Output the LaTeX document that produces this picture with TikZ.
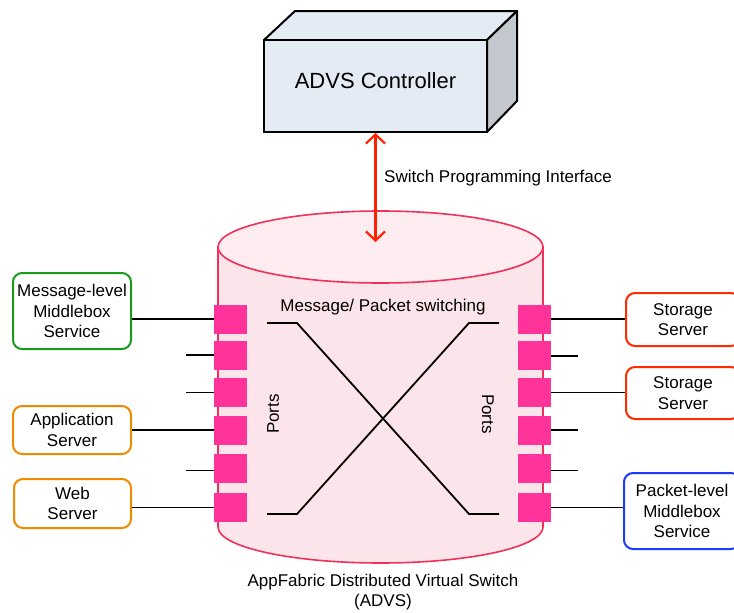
\documentclass[tikz,border=0pt]{standalone}
\usepackage{fontspec}
\setmainfont{Liberation Sans}
\usetikzlibrary{arrows.meta}
\definecolor{cubefront}{HTML}{E5EBF5}
\definecolor{cubeside}{HTML}{C3C8CF}
\definecolor{swfill}{HTML}{FCE5EA}
\definecolor{swline}{HTML}{F0305A}
\definecolor{portc}{HTML}{FF3399}
\definecolor{arrowred}{HTML}{FF2200}
\definecolor{gbox}{HTML}{1A9A1A}
\definecolor{obox}{HTML}{F08A00}
\definecolor{rbox}{HTML}{FF2A00}
\definecolor{bbox}{HTML}{1A3CFF}
\tikzset{
  txt/.style={font=\fontsize{17}{20.7}\selectfont, align=center, inner sep=0pt},
  svc/.style={draw, line width=2pt, rounded corners=9pt, fill=white, txt},
  portbox/.style={fill=portc, minimum width=33pt, minimum height=29pt, inner sep=0pt},
  wire/.style={line width=1.8pt, black},
}
\begin{document}
\begin{tikzpicture}[x=1pt,y=-1pt]
\useasboundingbox (0,0) rectangle (734,613);
% --- controller cube
\filldraw[fill=cubefront, line width=2pt, line join=round] (264,40) -- (295,11) -- (517,11) -- (487,40) -- cycle;
\filldraw[fill=cubeside, line width=2pt, line join=round] (487,40) -- (517,11) -- (517,101) -- (487,132) -- cycle;
\node[draw, line width=2pt, fill=cubefront, minimum width=223pt, minimum height=92pt, inner sep=0pt,
      text height=16pt, text depth=12pt,
      font=\fontsize{22}{26}\selectfont] (ctrl) at (375.5,86) {ADVS Controller};
% --- switch cylinder
\filldraw[fill=swfill, draw=swline, line width=1.6pt]
  (218,247) -- (218,527) arc[start angle=180, end angle=0, x radius=162.5, y radius=36] -- (543,247) -- cycle;
\filldraw[fill=swfill!70!white, draw=swline, line width=1.6pt] (380.5,247) ellipse [x radius=162.5, y radius=36];
\coordinate (swtop) at (375.5,242);
% --- programming interface arrow
\draw[arrowred, line width=2.2pt, {Straight Barb[length=9pt,width=19pt,line width=2.2pt]}-{Straight Barb[length=9pt,width=19pt,line width=2.2pt]}]
  (ctrl.south) -- (swtop);
\node[txt, anchor=west] (spi) at (384,178) {Switch Programming Interface};
% --- labels in switch
\node[txt] (mps) at (383,307) {Message/ Packet switching};
\node[txt, rotate=90] (lports) at (273,414) {Ports};
\node[txt, rotate=-90] (rports) at (488,414) {Ports};
\node[txt] (advs) at (383,592) {AppFabric Distributed Virtual Switch\\(ADVS)};
% --- crossing lines
\draw[wire] (267,323) -- (297,323) -- (469,514) -- (499,514);
\draw[wire] (499,323) -- (469,323) -- (297,514) -- (267,514);
% --- ports
\foreach \i/\y in {1/319,2/355,3/392.5,4/430,5/468,6/507.5}{
  \node[portbox] (L\i) at (230.5,\y) {};
  \node[portbox] (R\i) at (534.5,\y) {};
}
% --- service boxes
\node[svc, draw=gbox, minimum width=118pt, minimum height=76pt] (msg) at (72,311) {Message-level\\Middlebox\\Service};
\node[svc, draw=obox, minimum width=118pt, minimum height=48pt] (app) at (72,430) {Application\\Server};
\node[svc, draw=obox, minimum width=117pt, minimum height=49pt] (web) at (72.5,503.5) {Web\\Server};
\node[svc, draw=rbox, minimum width=114pt, minimum height=53pt] (st1) at (683,319.5) {Storage\\Server};
\node[svc, draw=rbox, minimum width=114pt, minimum height=52pt] (st2) at (683,393) {Storage\\Server};
\node[svc, draw=bbox, minimum width=116pt, minimum height=76pt] (pkt) at (682,511) {Packet-level\\Middlebox\\Service};
% --- stubs
\coordinate (l2s) at (186,355); \coordinate (l3s) at (186,392.5); \coordinate (l5s) at (186,470.5);
\coordinate (r2s) at (578,356); \coordinate (r4s) at (578,430); \coordinate (r5s) at (578,470.5);
% --- connectors
\draw[wire] (msg.east |- L1.west) -- (L1.west);
\draw[wire] (app.east |- L4.west) -- (L4.west);
\draw[wire] (web.east |- L6.west) -- (L6.west);
\draw[wire] (l2s) -- (l2s -| L2.west);
\draw[wire] (l3s) -- (l3s -| L3.west);
\draw[wire] (l5s) -- (l5s -| L5.west);
\draw[wire] (R1.east) -- (R1.east -| st1.west);
\draw[wire] (R3.east) -- (R3.east -| st2.west);
\draw[wire] (R6.east) -- (R6.east -| pkt.west);
\draw[wire] (r2s -| R2.east) -- (r2s);
\draw[wire] (r4s -| R4.east) -- (r4s);
\draw[wire] (r5s -| R5.east) -- (r5s);
\end{tikzpicture}
\end{document}
